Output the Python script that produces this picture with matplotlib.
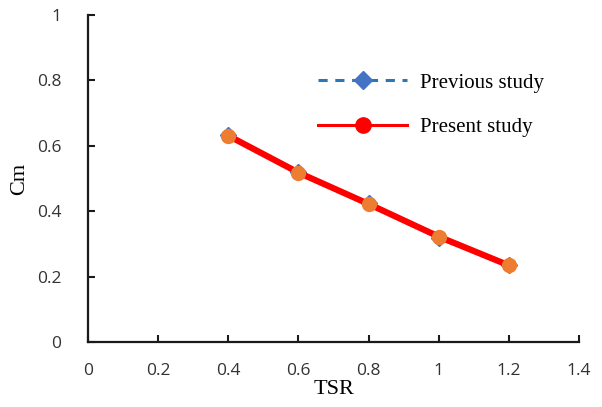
import matplotlib
matplotlib.use('Agg')
import matplotlib.pyplot as plt
from matplotlib.lines import Line2D

# data
tsr = [0.4, 0.6, 0.8, 1.0, 1.2]
cm_previous = [0.632, 0.520, 0.425, 0.317, 0.234]
cm_present = [0.631, 0.518, 0.422, 0.322, 0.234]

fig = plt.figure(figsize=(6.02, 4.07), dpi=100)
ax = fig.add_axes([0.146, 0.160, 0.816, 0.803])

ax.plot(tsr, cm_previous, color='#2E75B6', ls=(0, (4, 2.5)), lw=2.2,
        marker='D', ms=8.5, mfc='#4472C4', mec='#4472C4', zorder=2)
ax.plot(tsr, cm_present, color='#FF0000', lw=4.5,
        marker='o', ms=10, mfc='#ED7D31', mec='#ED7D31', zorder=3)

ax.set_xlim(0, 1.4)
ax.set_ylim(0, 1)
ax.set_xticks([0, 0.2, 0.4, 0.6, 0.8, 1.0, 1.2, 1.4])
ax.set_xticklabels(['0', '0.2', '0.4', '0.6', '0.8', '1', '1.2', '1.4'])
ax.set_yticks([0, 0.2, 0.4, 0.6, 0.8, 1.0])
ax.set_yticklabels(['0', '0.2', '0.4', '0.6', '0.8', '1'])

for s in ['top', 'right']:
    ax.spines[s].set_visible(False)
for s in ['left', 'bottom']:
    ax.spines[s].set_linewidth(1.6)
    ax.spines[s].set_color('#1a1a1a')

ax.tick_params(direction='in', length=5, width=1.5, color='#1a1a1a',
               labelsize=12.5, labelcolor='#333333')
ax.tick_params(axis='x', pad=15)
ax.tick_params(axis='y', pad=19)
for lab in ax.get_xticklabels() + ax.get_yticklabels():
    lab.set_family('Open Sans')

ax.set_xlabel('TSR', family='Liberation Serif', fontsize=16, labelpad=1)
ax.set_ylabel('Cm', family='Liberation Serif', fontsize=16, labelpad=6)

handles = [
    Line2D([], [], color='#2E75B6', ls=(0, (3, 2.5)), lw=2.2, marker='D',
           ms=9, mfc='#4472C4', mec='#4472C4'),
    Line2D([], [], color='#FF0000', lw=2.2, marker='o', ms=11,
           mfc='#FF0000', mec='#FF0000'),
]
ax.legend(handles, ['Previous study', 'Present study'], frameon=False,
          prop={'family': 'Liberation Serif', 'size': 15},
          loc='upper left', bbox_to_anchor=(0.43, 0.88),
          handlelength=4.3, labelspacing=1.2, handletextpad=0.6)

fig.savefig('out.png', dpi=100)
